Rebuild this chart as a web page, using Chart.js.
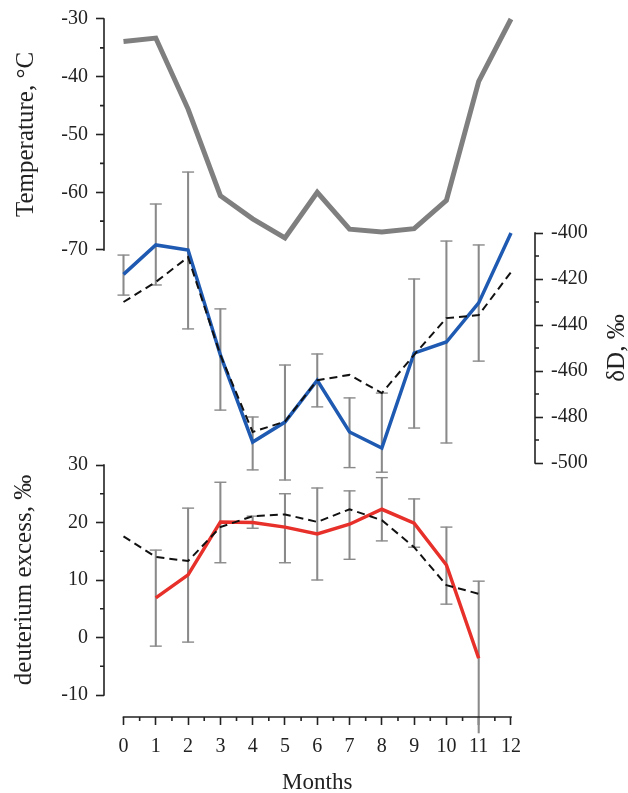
<!DOCTYPE html>
<html>
<head>
<meta charset="utf-8">
<script src="https://cdn.jsdelivr.net/npm/chart.js@4"></script>
<style>
  html, body { margin: 0; padding: 0; background: #fff; }
  #wrap { width: 628px; height: 793px; position: relative; }
</style>
</head>
<body>
<div id="wrap"><canvas id="chart"></canvas></div>
<script>
(function () {
  // data
  const months = [0, 1, 2, 3, 4, 5, 6, 7, 8, 9, 10, 11, 12];
  const temperature = [-33.9, -33.3, -45.6, -60.6, -64.6, -67.9, -60.0, -66.4, -66.9, -66.3, -61.4, -40.8, -30.0];

  const dD      = [-418, -405.2, -407.4, -453, -490.9, -482.2, -464, -486.5, -493.5, -452.2, -447.4, -430.4, -400];
  const dDModel = [-430, -421.3, -410.5, -453, -486.5, -482, -464, -461.7, -469.6, -453, -437, -435.7, -417];
  const dDLow   = [-427, -422.6, -441.7, -477, -503, -507.4, -475.6, -502, -504, -484.8, -491.3, -455.7, null];
  const dDHigh  = [-409.6, -387.4, -373.5, -433, -480, -457.4, -452.6, -471.7, -469.6, -420, -403.5, -405.2, null];

  const dExcess      = [null, 6.9, 10.9, 20.1, 20.0, 19.2, 18.0, 19.7, 22.3, 19.9, 12.6, -3.6, null];
  const dExcessModel = [17.6, 14.0, 13.3, 19.2, 21.1, 21.4, 20.1, 22.3, 20.4, 15.7, 9.1, 7.6, null];
  const dExcessLow   = [null, -1.5, -0.8, 13, 19.0, 13, 10, 13.6, 16.8, 15.7, 5.8, -16.6, null];
  const dExcessHigh  = [null, 15.2, 22.5, 27, 21.1, 25, 26, 25.5, 27.8, 24.1, 19.2, 9.8, null];

  // tick labels
  const monthTicks = [0, 1, 2, 3, 4, 5, 6, 7, 8, 9, 10, 11, 12];
  const monthMinor = [0.5, 1.5, 2.5, 3.5, 4.5, 5.5, 6.5, 7.5, 8.5, 9.5, 10.5, 11.5];
  const tempTicks = [-30, -40, -50, -60, -70];
  const tempMinor = [-35, -45, -55, -65];
  const dDTicks = [-400, -420, -440, -460, -480, -500];
  const dDMinor = [-410, -430, -450, -470, -490];
  const dexTicks = [30, 20, 10, 0, -10];
  const dexMinor = [25, 15, 5, -5];

  const W = 628, H = 793;
  const AREA = { left: 104, right: 535, top: 10, bottom: 717 };
  const SPLIT = (AREA.top + AREA.bottom) / 2; // the two left axes are stacked
  const INK = '#222';
  const BAR = '#8a8a8a';

  Chart.defaults.font.family = "'Liberation Serif', 'Times New Roman', serif";
  Chart.defaults.color = INK;

  // min/max so that value a sits at pixel pa and value b at pixel pb
  function fitRange(a, pa, b, pb, pMin, pMax) {
    const at = p => a + (p - pa) * (b - a) / (pb - pa);
    return { min: at(pMin), max: at(pMax) };
  }
  const xRange    = fitRange(0, 123.5, 12, 511, AREA.left, AREA.right);
  const tempRange = fitRange(-30, 19, -70, 250, SPLIT, AREA.top);
  const dexRange  = fitRange(30, 465, -10, 695, AREA.bottom, SPLIT);
  const dDRange   = fitRange(-400, 233, -500, 463, AREA.bottom, AREA.top);

  const pts = arr => months.map((m, i) => ({ x: m, y: arr[i] }));
  const bars = (lo, hi) => months.filter((m, i) => lo[i] != null).map(m => ({ x: m, y: [lo[m], hi[m]] }));
  const caps = (lo, hi) => months.filter((m, i) => lo[i] != null)
    .flatMap(m => [{ x: m, y: lo[m] }, { x: m, y: hi[m] }]);

  function axis(position, range, major, size, extra) {
    return Object.assign({
      type: 'linear', position,
      min: range.min, max: range.max,
      beginAtZero: false, offset: false,
      afterBuildTicks: sc => { sc.ticks = major.map(v => ({ value: v })); },
      afterFit: sc => {
        if (sc.isHorizontal()) sc.height = size; else sc.width = size;
        sc.paddingTop = sc.paddingBottom = sc.paddingLeft = sc.paddingRight = 0;
      },
      border: { display: false },
      grid: { display: true, offset: false, drawOnChartArea: false, drawTicks: true, tickLength: 8, tickColor: INK, tickWidth: 1.6 },
      ticks: { autoSkip: false, maxRotation: 0, minRotation: 0, padding: 8, color: INK, font: { size: 20 }, callback: v => String(v) }
    }, extra || {});
  }

  const lineDs = (label, data, yAxisID, color, width, dash, order) => ({
    type: 'line', label, data: pts(data), yAxisID,
    borderColor: color, borderWidth: width, borderDash: dash || [],
    pointRadius: 0, tension: 0, spanGaps: false, clip: false, order
  });
  const barDs = (label, lo, hi, yAxisID) => ({
    type: 'bar', label, data: bars(lo, hi), yAxisID,
    backgroundColor: BAR, borderWidth: 0, barThickness: 1.4,
    grouped: false, clip: false, order: 3
  });
  const capDs = (label, lo, hi, yAxisID) => ({
    type: 'scatter', label, data: caps(lo, hi), yAxisID,
    pointStyle: 'line', pointRadius: 6, pointHoverRadius: 6,
    borderColor: BAR, borderWidth: 1.4, clip: false, order: 3
  });

  // axis lines, minor ticks and axis titles
  const axisDecor = {
    id: 'axisDecor',
    afterDraw(chart) {
      const ctx = chart.ctx;
      const s = chart.scales;
      ctx.save();
      ctx.strokeStyle = INK;
      ctx.lineWidth = 1.6;
      ctx.beginPath();
      [['yTemp', tempTicks, tempMinor, -1], ['yDex', dexTicks, dexMinor, -1], ['yDD', dDTicks, dDMinor, 1]]
        .forEach(([id, major, minor, dir]) => {
          const sc = s[id];
          const x = dir < 0 ? sc.right : sc.left;
          ctx.moveTo(x, sc.getPixelForValue(major[0]) - 0.8);
          ctx.lineTo(x, sc.getPixelForValue(major[major.length - 1]) + 0.8);
          minor.forEach(v => {
            const y = sc.getPixelForValue(v);
            ctx.moveTo(x, y); ctx.lineTo(x + dir * 4, y);
          });
        });
      const sx = s.x;
      const y0 = sx.top;
      ctx.moveTo(sx.getPixelForValue(monthTicks[0]) - 0.8, y0);
      ctx.lineTo(sx.getPixelForValue(monthTicks[monthTicks.length - 1]) + 0.8, y0);
      monthMinor.forEach(v => {
        const x = sx.getPixelForValue(v);
        ctx.moveTo(x, y0); ctx.lineTo(x, y0 + 4);
      });
      ctx.stroke();

      ctx.fillStyle = INK;
      const vTitle = (text, x, sc, major) => {
        const y = (sc.getPixelForValue(major[0]) + sc.getPixelForValue(major[major.length - 1])) / 2;
        ctx.save();
        ctx.translate(x, y);
        ctx.rotate(-Math.PI / 2);
        ctx.textAlign = 'center';
        ctx.textBaseline = 'middle';
        ctx.fillText(text, 0, 0);
        ctx.restore();
      };
      ctx.font = "25px 'Liberation Serif', 'Times New Roman', serif";
      vTitle('Temperature, °C', 26, s.yTemp, tempTicks);
      vTitle('deuterium excess, ‰', 24, s.yDex, dexTicks);
      vTitle('δD, ‰', 617, s.yDD, dDTicks);

      ctx.font = "23px 'Liberation Serif', 'Times New Roman', serif";
      ctx.textAlign = 'center';
      ctx.textBaseline = 'alphabetic';
      const mid = (sx.getPixelForValue(monthTicks[0]) + sx.getPixelForValue(monthTicks[monthTicks.length - 1])) / 2;
      ctx.fillText('Months', mid, 789);
      ctx.restore();
    }
  };

  new Chart(document.getElementById('chart'), {
    type: 'line',
    data: {
      datasets: [
        lineDs('Temperature', temperature, 'yTemp', '#7f7f7f', 5, null, 1),
        lineDs('δD', dD, 'yDD', '#1f5ab2', 3.5, null, 1),
        lineDs('δD model', dDModel, 'yDD', '#111', 2, [8, 5], 0),
        lineDs('d-excess', dExcess, 'yDex', '#e8302a', 3.5, null, 1),
        lineDs('d-excess model', dExcessModel, 'yDex', '#111', 2, [8, 5], 0),
        barDs('δD range', dDLow, dDHigh, 'yDD'),
        capDs('δD caps', dDLow, dDHigh, 'yDD'),
        barDs('d-excess range', dExcessLow, dExcessHigh, 'yDex'),
        capDs('d-excess caps', dExcessLow, dExcessHigh, 'yDex')
      ]
    },
    options: {
      responsive: true,
      maintainAspectRatio: false,
      animation: false,
      layout: { padding: { left: 0, right: 0, top: AREA.top, bottom: 0 } },
      plugins: { legend: { display: false }, tooltip: { enabled: false } },
      scales: {
        x: axis('bottom', xRange, monthTicks, H - AREA.bottom, {
          ticks: { autoSkip: false, maxRotation: 0, minRotation: 0, padding: 10, color: INK, font: { size: 20 }, callback: v => String(v) }
        }),
        yTemp: axis('left', tempRange, tempTicks, AREA.left, { stack: 'left', stackWeight: 1, weight: 1 }),
        yDex: axis('left', dexRange, dexTicks, AREA.left, { stack: 'left', stackWeight: 1, weight: 0 }),
        yDD: axis('right', dDRange, dDTicks, W - AREA.right)
      }
    },
    plugins: [axisDecor]
  });
})();
</script>
</body>
</html>
